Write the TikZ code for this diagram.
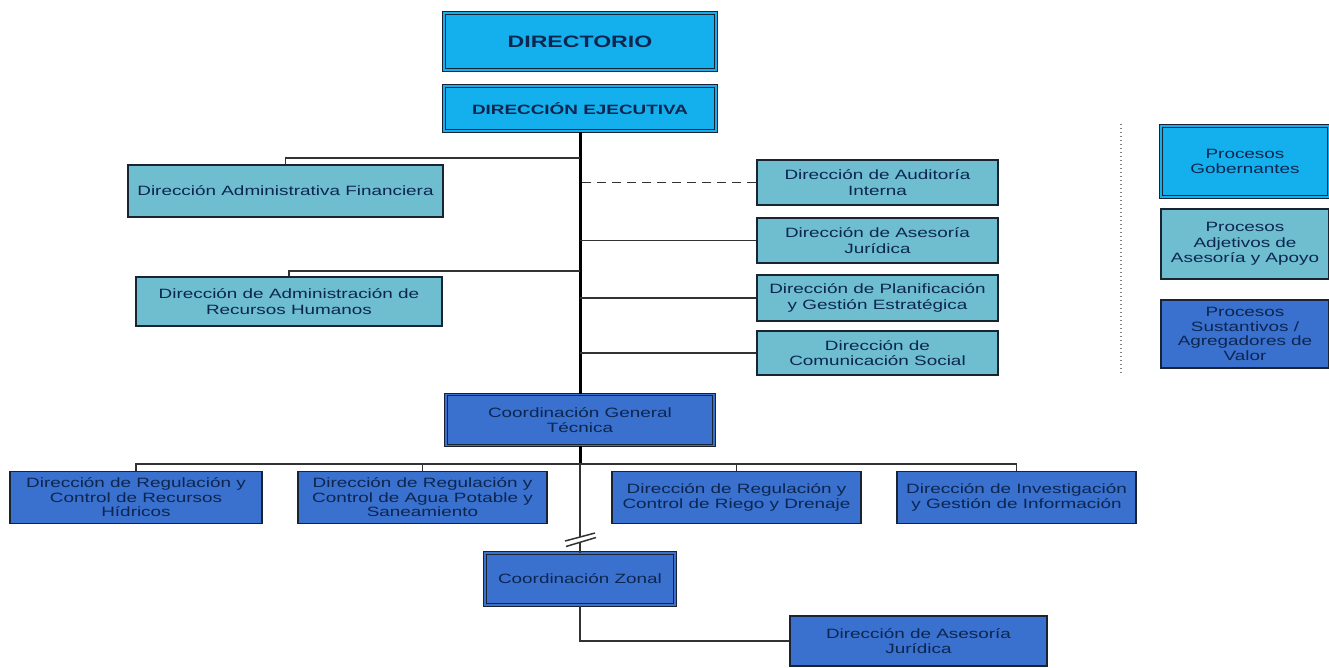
\documentclass[tikz,border=0pt]{standalone}
\usepackage{fontspec}
\setmainfont{Liberation Sans}[FakeStretch=1.4]
\usetikzlibrary{positioning}
\definecolor{gobcyan}{RGB}{20,176,238}
\definecolor{apoyoteal}{RGB}{110,190,208}
\definecolor{sustblue}{RGB}{58,112,206}
\definecolor{boxline}{RGB}{25,35,50}
\definecolor{boxtext}{RGB}{12,38,80}
\definecolor{linkgray}{RGB}{50,50,50}

\begin{document}
\begin{tikzpicture}[
    x=1pt,y=-1pt,
    unit/.style={draw=boxline,line width=1.4pt,rectangle,align=center,text=boxtext,inner sep=2pt,
      font=\fontsize{13.5}{15.5}\selectfont},
    gob/.style={unit,fill=gobcyan,double=gobcyan,double distance=1.4pt,line width=1pt},
    apoyo/.style={unit,fill=apoyoteal},
    sust/.style={unit,fill=sustblue},
    sustd/.style={sust,double=sustblue,double distance=1.4pt,line width=1pt},
    tight/.style={font=\fontsize{13.5}{14.5}\selectfont},
    link/.style={draw=linkgray,line width=1.5pt},
    spine/.style={draw=black,line width=3pt},
    legsep/.style={draw=gray,line width=2pt,dash pattern=on 1.3pt off 2.7pt},
  ]
    \useasboundingbox (0,0) rectangle (1329,667);

    \node[gob,minimum width=272,minimum height=57,font=\bfseries\fontsize{16.5}{18}\selectfont] (dir) at (580,41.5) {DIRECTORIO};
    \node[gob,minimum width=272,minimum height=45,font=\bfseries\fontsize{13.5}{15}\selectfont] (de) at (580,108.5) {DIRECCIÓN EJECUTIVA};

    \node[apoyo,minimum width=315,minimum height=52] (daf) at (285.5,191) {Dirección Administrativa Financiera};
    \node[apoyo,minimum width=306,minimum height=49] (drh) at (289,301.5) {Dirección de Administración de\\Recursos Humanos};
    \node[apoyo,minimum width=241,minimum height=45] (aud) at (877.5,182.5) {Dirección de Auditoría\\Interna};
    \node[apoyo,minimum width=241,minimum height=45] (aj)  at (877.5,240.5) {Dirección de Asesoría\\Jurídica};
    \node[apoyo,minimum width=241,minimum height=46] (pge) at (877.5,298) {Dirección de Planificación\\y Gestión Estratégica};
    \node[apoyo,minimum width=241,minimum height=44] (com) at (877.5,353) {Dirección de\\Comunicación Social};

    \node[sustd,minimum width=268,minimum height=51] (cgt) at (580,420) {Coordinación General\\Técnica};
    \node[sust,tight,minimum width=252,minimum height=52] (r1) at (136,497.5) {Dirección de Regulación y\\Control de Recursos\\Hídricos};
    \node[sust,tight,minimum width=249,minimum height=52] (r2) at (422.5,497.5) {Dirección de Regulación y\\Control de Agua Potable y\\Saneamiento};
    \node[sust,minimum width=249,minimum height=52] (r3) at (736.5,497.5) {Dirección de Regulación y\\Control de Riego y Drenaje};
    \node[sust,minimum width=239,minimum height=52] (r4) at (1016.5,497.5) {Dirección de Investigación\\y Gestión de Información};
    \node[sustd,minimum width=190,minimum height=52] (cz) at (580,579) {Coordinación Zonal};
    \node[sust,minimum width=257,minimum height=50] (daj) at (918.5,641) {Dirección de Asesoría\\Jurídica};

    \node[gob,minimum width=168,minimum height=71] (lg1) at (1245,161.5) {Procesos\\Gobernantes};
    \node[apoyo,minimum width=168,minimum height=70] (lg2) at (1245,244) {Procesos\\Adjetivos de\\Asesoría y Apoyo};
    \node[sust,tight,minimum width=168,minimum height=68] (lg3) at (1245,334) {Procesos\\Sustantivos /\\Agregadores de\\Valor};

    \coordinate (jdaf) at (580,158);
    \coordinate (jdrh) at (580,271);
    \coordinate (bus) at (580,465);
    \coordinate (brka) at (580,537);
    \coordinate (brkb) at (580,542);
    \coordinate (ltop) at (1121,124);
    \coordinate (lbot) at (1121,374);

    \draw[spine] (de.south) -- (cgt.north);
    \draw[link] (jdaf) -| (daf.north);
    \draw[link] (jdrh) -| (drh.north);
    \draw[link,dashed,dash pattern=on 9pt off 6pt] (aud.west) -- (aud.west -| de.south);
    \foreach \n in {aj,pge,com}
      \draw[link] (\n.west) -- (\n.west -| de.south);

    \draw[spine] (cgt.south) -- (bus);
    \draw[link] (r1.north) -- ++(0,-7) -| (r4.north);
    \foreach \n in {r2,r3}
      \draw[link] (\n.north) -- (\n.north |- bus);
    \draw[link] (bus) -- (brka);
    \draw[link] (brkb) -- (cz.north);
    \draw[link] ([shift={(-15,4)}]brka) -- ([shift={(15,-4)}]brka);
    \draw[link] ([shift={(-14,4.5)}]brkb) -- ([shift={(16,-4.5)}]brkb);
    \draw[link] (cz.south) |- (daj.west);

    \draw[legsep] (ltop) -- (lbot);
  \end{tikzpicture}
\end{document}
